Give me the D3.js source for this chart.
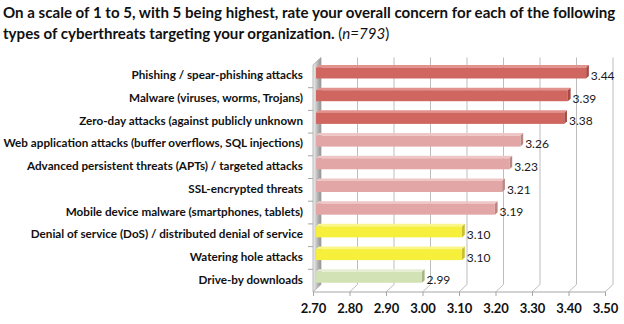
<!DOCTYPE html>
<html>
<head>
<meta charset="utf-8">
<script src="https://cdn.jsdelivr.net/npm/d3@7/dist/d3.min.js"></script>
<style>
  html, body { margin: 0; padding: 0; background: #fff; }
  svg { display: block; font-family: Lato, "Open Sans", sans-serif; }
</style>
</head>
<body>
<div id="chart"></div>
<script>
// Cyberthreat concern ratings, 3D-ish horizontal bars (Excel look)

const categories = [
  'Phishing / spear-phishing attacks',
  'Malware (viruses, worms, Trojans)',
  'Zero-day attacks (against publicly unknown',
  'Web application attacks (buffer overflows, SQL injections)',
  'Advanced persistent threats (APTs) / targeted attacks',
  'SSL-encrypted threats',
  'Mobile device malware (smartphones, tablets)',
  'Denial of service (DoS) / distributed denial of service',
  'Watering hole attacks',
  'Drive-by downloads'
];
const values = [3.44, 3.39, 3.38, 3.26, 3.23, 3.21, 3.19, 3.10, 3.10, 2.99];
const tiers = ['high', 'high', 'high', 'mid', 'mid', 'mid', 'mid', 'low', 'low', 'least'];
const xTicks = [2.70, 2.80, 2.90, 3.00, 3.10, 3.20, 3.30, 3.40, 3.50];

const W = 624, H = 324;
const DEPTH = { dx: 8, dy: -7.5 };   // back wall offset

const PAL = {
  high:  { front: '#cf6660', top: '#e3938e', end: '#a94943' },
  mid:   { front: '#e3a6a6', top: '#efc6c6', end: '#b98585' },
  low:   { front: '#f6ef3c', top: '#fbf68a', end: '#c7bf2c' },
  least: { front: '#d3e2b5', top: '#e5eed2', end: '#a6b584' }
};

const svg = d3.select('#chart').append('svg')
  .attr('width', W).attr('height', H);

// title
const title = svg.append('text')
  .attr('font-size', 15.1).attr('font-weight', 700).attr('fill', '#111');
title.append('tspan').attr('x', 3).attr('y', 18)
  .text('On a scale of 1 to 5, with 5 being highest, rate your overall concern for each of the following');
const t2 = title.append('tspan').attr('x', 3).attr('y', 39);
t2.append('tspan').text('types of cyberthreats targeting your organization. ');
t2.append('tspan').attr('font-weight', 400).text('(');
t2.append('tspan').attr('font-weight', 400).attr('font-style', 'italic').text('n=793');
t2.append('tspan').attr('font-weight', 400).text(')');

const x = d3.scaleLinear().domain([2.70, 3.50]).range([313, 605]);
const y = d3.scaleBand().domain(categories).range([65, 292]).paddingInner(0.56).paddingOuter(0.28);

const plotTop = y.range()[0], plotBottom = y.range()[1];
const x0 = x.range()[0];

// defs: side wall gradient
const defs = svg.append('defs');
const wallGrad = defs.append('linearGradient').attr('id', 'wall')
  .attr('x1', 0).attr('x2', 1).attr('y1', 0).attr('y2', 0);
wallGrad.append('stop').attr('offset', '0%').attr('stop-color', '#f4f4f4');
wallGrad.append('stop').attr('offset', '55%').attr('stop-color', '#b9b9b9');
wallGrad.append('stop').attr('offset', '100%').attr('stop-color', '#8f8f8f');

// left side wall
svg.append('path')
  .attr('d', `M${x0},${plotTop} L${x0 + DEPTH.dx},${plotTop + DEPTH.dy} L${x0 + DEPTH.dx},${plotBottom + DEPTH.dy} L${x0},${plotBottom} Z`)
  .attr('fill', 'url(#wall)').attr('stroke', '#a6a6a6').attr('stroke-width', 0.8);

// gridlines on back wall + floor diagonals
const grid = svg.append('g').attr('stroke', '#bdbdbd').attr('stroke-width', 1).attr('fill', 'none');
xTicks.slice(1).forEach(t => {
  const xx = x(t);
  grid.append('path')
    .attr('d', `M${xx + DEPTH.dx},${plotTop + DEPTH.dy} L${xx + DEPTH.dx},${plotBottom + DEPTH.dy} L${xx},${plotBottom}`);
});
// front axis line
svg.append('line')
  .attr('x1', x0).attr('x2', x(3.5)).attr('y1', plotBottom).attr('y2', plotBottom)
  .attr('stroke', '#a6a6a6');

// category ticks on the left front edge
const catTicks = svg.append('g').attr('stroke', '#a6a6a6');
categories.slice(1).forEach(c => {
  const yy = y(c) - y.step() * y.paddingInner() / 2;
  catTicks.append('line').attr('x1', x0 - 5).attr('x2', x0).attr('y1', yy).attr('y2', yy);
});

// bars
const BF = 0.38, BB = 0.72;   // bar front / back depth fraction
const bars = svg.append('g');
categories.forEach((c, i) => {
  const v = values[i];
  const pal = PAL[tiers[i]];
  const fx = DEPTH.dx * BF, fy = DEPTH.dy * BF;
  const bx = DEPTH.dx * BB, by = DEPTH.dy * BB;
  const xa = x0 + fx, xb = x(v) + fx;
  const ya = y(c) + fy - 1, yb = ya + y.bandwidth() + 1;
  const ddx = bx - fx, ddy = by - fy;
  // top face
  bars.append('path')
    .attr('d', `M${xa},${ya} L${xa + ddx},${ya + ddy} L${xb + ddx},${ya + ddy} L${xb},${ya} Z`)
    .attr('fill', pal.top);
  // end face
  bars.append('path')
    .attr('d', `M${xb},${ya} L${xb + ddx},${ya + ddy} L${xb + ddx},${yb + ddy} L${xb},${yb} Z`)
    .attr('fill', pal.end);
  // front face
  bars.append('rect')
    .attr('x', xa).attr('y', ya).attr('width', xb - xa).attr('height', yb - ya)
    .attr('fill', pal.front);
  // value label
  bars.append('text')
    .attr('x', xb + ddx + 2).attr('y', ya + (yb - ya) / 2 + 4)
    .attr('dominant-baseline', 'middle')
    .attr('font-size', 12).attr('fill', '#1a1a1a')
    .text(d3.format('.2f')(v));
});

// category labels
svg.append('g').selectAll('text').data(categories).join('text')
  .attr('x', 303)
  .attr('y', d => y(d) + y.bandwidth() / 2)
  .attr('text-anchor', 'end').attr('dominant-baseline', 'middle')
  .attr('font-size', 11.7).attr('font-weight', 700).attr('fill', '#111')
  .text(d => d);

// x axis
const axis = svg.append('g').attr('transform', `translate(0,${plotBottom})`)
  .call(d3.axisBottom(x).tickValues(xTicks).tickFormat(d3.format('.2f')).tickSize(4).tickPadding(8));
axis.select('.domain').remove();
axis.selectAll('.tick line').attr('stroke', '#a6a6a6');
axis.selectAll('.tick text')
  .attr('font-family', 'Lato, "Open Sans", sans-serif')
  .attr('font-size', 13).attr('font-weight', 700).attr('fill', '#111');
</script>
</body>
</html>
